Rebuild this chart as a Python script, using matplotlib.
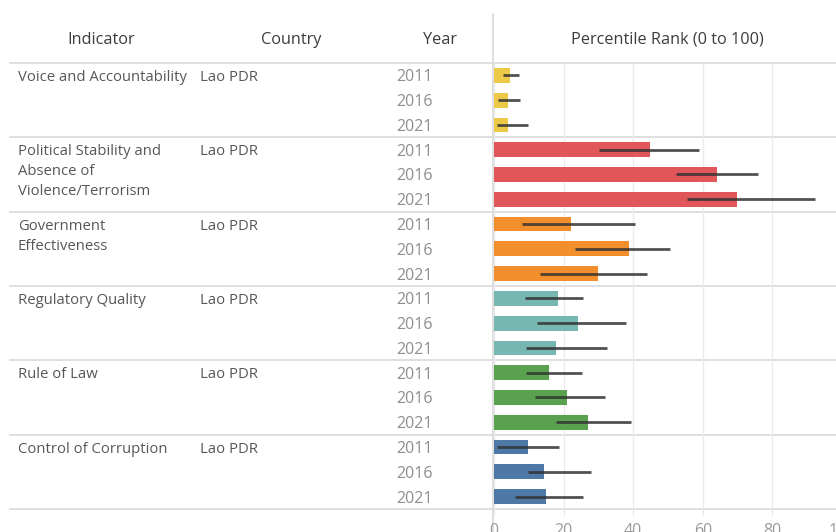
import matplotlib
matplotlib.use("Agg")
import matplotlib.pyplot as plt

# data
indicators = [
    "Voice and Accountability",
    "Political Stability and\nAbsence of\nViolence/Terrorism",
    "Government\nEffectiveness",
    "Regulatory Quality",
    "Rule of Law",
    "Control of Corruption",
]
country = "Lao PDR"
years = ["2011", "2016", "2021"]
rank = [
    [4.6, 4.1, 4.1],
    [44.7, 64.1, 69.7],
    [22.1, 38.7, 29.8],
    [18.3, 24.2, 17.9],
    [15.9, 20.9, 27.1],
    [9.7, 14.5, 14.9],
]
lower = [
    [2.7, 1.2, 0.8],
    [30.3, 52.3, 55.6],
    [8.0, 23.3, 13.1],
    [8.8, 12.4, 9.1],
    [9.1, 11.7, 17.7],
    [0.8, 9.9, 6.1],
]
upper = [
    [7.2, 7.5, 9.7],
    [58.8, 75.9, 92.2],
    [40.5, 50.7, 43.9],
    [25.7, 37.9, 32.5],
    [25.3, 32.0, 39.5],
    [18.6, 27.8, 25.7],
]
colors = ["#EDC948", "#E15759", "#F28E2B", "#76B7B2", "#59A14F", "#4E79A7"]
xticks = [0, 20, 40, 60, 80, 100]

W, H = 837, 532
plt.rcParams['font.family'] = ['Open Sans', 'DejaVu Sans']

fig = plt.figure(figsize=(W / 100, H / 100), dpi=100)

top_px, bot_px = 63, 509
n_rows = len(indicators) * len(years)
row_px = (bot_px - top_px) / n_rows

# background axes for the table part (x in pixels, y in rows)
bg = fig.add_axes([0, 1 - bot_px / H, 1, (bot_px - top_px) / H])
bg.set_xlim(0, W)
bg.set_ylim(n_rows, 0)
bg.axis("off")

# bar axes: 0 at x=494px, 100 at x=842px (slightly past the edge)
ax = fig.add_axes([494 / W, 1 - bot_px / H, 348 / W, (bot_px - top_px) / H])
ax.set_xlim(0, 100)
ax.set_ylim(n_rows, 0)
ax.patch.set_visible(False)
for s in ax.spines.values():
    s.set_visible(False)
ax.set_yticks([])
ax.set_xticks(xticks)
ax.tick_params(axis="x", length=4, color="#e6e6e6", labelcolor="#9a9a9a",
               labelsize=11.5, pad=6)
ax.grid(axis="x", color="#ebebeb", linewidth=1)
ax.set_axisbelow(True)

def px_to_row(y):
    return (y - top_px) / row_px

# header
hdr_y = px_to_row(40)
hdr_color = "#3c3c3c"
hdr_size = 11.7
bg.text(101, hdr_y, "Indicator", ha="center", va="center", fontsize=hdr_size, color=hdr_color, clip_on=False)
bg.text(291, hdr_y, "Country", ha="center", va="center", fontsize=hdr_size, color=hdr_color, clip_on=False)
bg.text(440, hdr_y, "Year", ha="center", va="center", fontsize=hdr_size, color=hdr_color, clip_on=False)
bg.text(667, hdr_y, "Percentile Rank (0 to 100)", ha="center", va="center", fontsize=hdr_size,
        color=hdr_color, clip_on=False)

# separators
for g in range(len(indicators) + 1):
    bg.plot([10, W], [g * 3, g * 3], color="#d9d9d9", linewidth=1.2, clip_on=False)
bg.plot([493.5, 493.5], [px_to_row(14), px_to_row(H + 2)], color="#d9d9d9",
        linewidth=1.2, clip_on=False)

text_color = "#575757"
year_color = "#8e8e8e"
shift = 2 / row_px
for g, name in enumerate(indicators):
    first = g * 3 + 0.5 + shift
    for i, line in enumerate(name.split("\n")):
        bg.text(18, first + i * 20 / row_px, line, ha="left", va="center",
                fontsize=10.7, color=text_color, clip_on=False)
    bg.text(200, first, country, ha="left", va="center", fontsize=10.7,
            color=text_color, clip_on=False)
    for k, yr in enumerate(years):
        y = g * 3 + k + 0.5
        bg.text(433, y + shift, yr, ha="right", va="center", fontsize=11.5,
                color=year_color, clip_on=False)
        ax.barh(y, rank[g][k], height=0.6, color=colors[g], zorder=2)
        ax.hlines(y, lower[g][k], upper[g][k], color="#333333", linewidth=2,
                  alpha=0.85, zorder=3)

fig.savefig("out.png", dpi=100)
